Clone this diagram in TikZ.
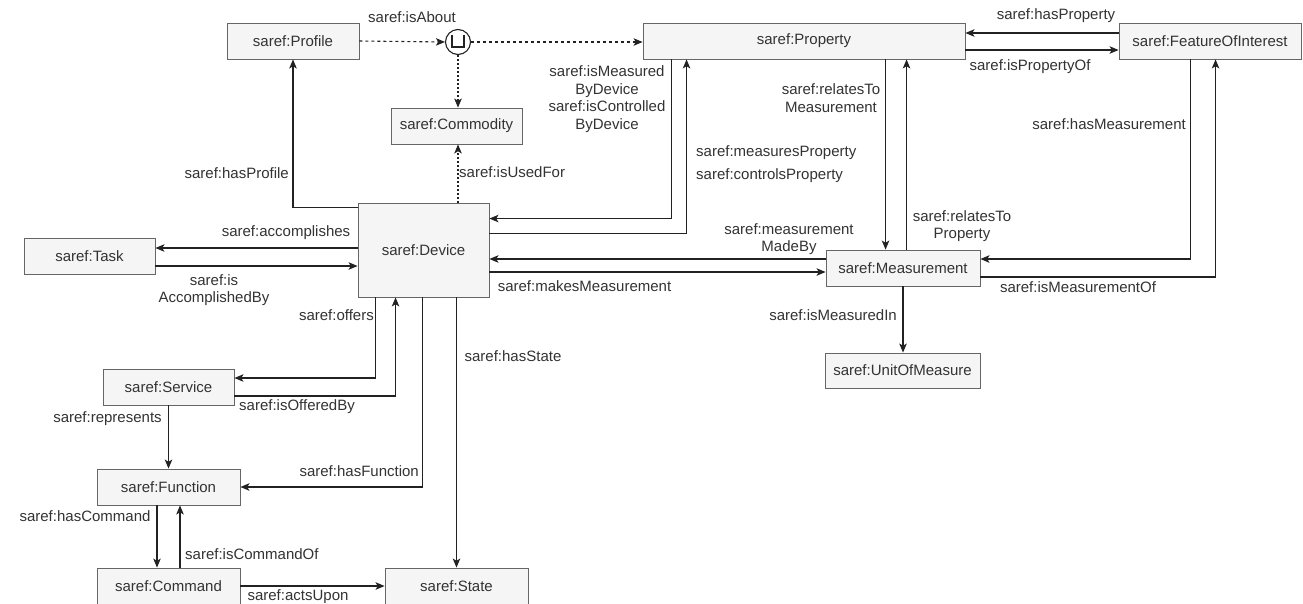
\documentclass[tikz,border=0pt]{standalone}
\usepackage{fontspec}
\setmainfont{Liberation Sans}
\usetikzlibrary{arrows.meta,calc}
\definecolor{boxfill}{HTML}{F5F5F5}
\definecolor{boxline}{HTML}{666666}
\definecolor{ink}{HTML}{333333}
\definecolor{wire}{HTML}{222222}

\tikzset{
  cls/.style={draw=boxline, fill=boxfill, line width=0.9pt, text=ink, inner sep=0pt,
    font=\fontsize{15}{17.5}\selectfont, minimum height=36pt},
  lblm/.style={text=ink, inner sep=0pt, font=\fontsize{15}{17.5}\selectfont, align=center},
  lbl/.style={lblm, text height=10.5pt, text depth=3pt},
  arr/.style={draw=wire, line width=1.1pt, -{Stealth[length=9pt,width=7.5pt,inset=2.2pt]}},
  dsh/.style={arr, dash pattern=on 3pt off 3pt},
  dtt/.style={arr, dash pattern=on 2pt off 2pt},
}

\begin{document}
\begin{tikzpicture}[x=1pt,y=-1pt]
\fill[white] (0,0) rectangle (1303,603);
\path[use as bounding box] (0,0) rectangle (1303,603);

% classes
\node[cls, minimum width=132pt] (prof) at (293,41) {saref:Profile};
\node[cls, minimum width=131pt] (comm) at (456.5,126) {saref:Commodity};
\node[cls, minimum width=322pt] (prop) at (804,41) {saref:Property};
\node[cls, minimum width=182pt] (foi) at (1210,41) {saref:FeatureOfInterest};
\node[cls, minimum width=131pt, minimum height=94pt] (dev) at (423.5,250) {saref:Device};
\node[cls, minimum width=131pt] (task) at (89.5,256) {saref:Task};
\node[cls, minimum width=131pt] (svc) at (168.5,387) {saref:Service};
\node[cls, minimum width=143pt] (func) at (168.5,487) {saref:Function};
\node[cls, minimum width=143pt] (cmd) at (168.5,586) {saref:Command};
\node[cls, minimum width=143pt] (state) at (456.5,586) {saref:State};
\node[cls, minimum width=154pt] (meas) at (903,268) {saref:Measurement};
\node[cls, minimum width=155pt, minimum height=35pt] (unit) at (902.5,370.5) {saref:UnitOfMeasure};

% union of Profile and Property
\node[circle, draw=wire, fill=white, line width=1.1pt, minimum size=25pt, inner sep=0pt] (union) at (458,42) {};
\draw[wire, line width=1.1pt] ($(union.center)+(-6,-7)$) -- ($(union.center)+(-6,5)$)
  -- ($(union.center)+(6,5)$) -- ($(union.center)+(6,-7)$);

% dashed relations
\draw[dsh] (prof.east) -- (union.west);
\draw[dsh] (union.east) -- (union.east -| prop.west);
\draw[dtt] (union.south) -- (union.south |- comm.north);
\draw[dtt] (union.south |- dev.north) -- (union.south |- comm.south);
\node[lbl] (l_about) at (412,19) {saref:isAbout};
\node[lbl, anchor=west] (l_used) at (459,174) {saref:isUsedFor};

% Device -- Profile, Task
\draw[arr] ($(dev.north west)+(0,5)$) -| (prof.south);
\node[lbl, anchor=east] (l_prof) at (289,175) {saref:hasProfile};
\draw[arr] ($(dev.west)+(0,-2)$) -- ($(task.east)+(0,-8)$);
\node[lbl] (l_acc) at (286,233) {saref:accomplishes};
\draw[arr] ($(task.east)+(0,10)$) -- ($(dev.west)+(0,16)$);
\node[lblm] (l_accby) at (214,290) {saref:is\\AccomplishedBy};

% Device -- Service
\draw[arr] ($(dev.south west)+(18,0)$) |- ($(svc.east)+(0,-9)$);
\node[lbl, anchor=east] (l_off) at (374,317) {saref:offers};
\draw[arr] ($(svc.east)+(0,9)$) -| ($(dev.south west)+(38,0)$);
\node[lbl] (l_offby) at (297,407) {saref:isOfferedBy};

% Service, Function, Command, State
\draw[arr] (svc.south) -- (func.north);
\node[lbl] (l_rep) at (107.5,419) {saref:represents};
\draw[arr] ($(dev.south west)+(65,0)$) |- (func.east);
\node[lbl, anchor=east] (l_fun) at (419,473) {saref:hasFunction};
\draw[arr] (state.north |- dev.south) -- (state.north);
\node[lbl] (l_state) at (513,358) {saref:hasState};
\draw[arr] ($(func.south)+(-11.5,0)$) -- ($(cmd.north)+(-11.5,0)$);
\node[lbl] (l_cmd) at (85,518) {saref:hasCommand};
\draw[arr] ($(cmd.north)+(11.5,0)$) -- ($(func.south)+(11.5,0)$);
\node[lbl, anchor=west] (l_cmdof) at (185,556) {saref:isCommandOf};
\draw[arr] (cmd.east) -- (state.west);
\node[lbl] (l_acts) at (298,597) {saref:actsUpon};

% Device -- Property
\draw[arr] ($(prop.south west)+(29,0)$) |- ($(dev.north east)+(0,16)$);
\draw[arr] ($(dev.north east)+(0,31)$) -| ($(prop.south west)+(44,0)$);
\node[lblm] (l_measby) at (607,99) {saref:isMeasured\\ByDevice\\saref:isControlled\\ByDevice};
\node[lbl, anchor=west] (l_measp) at (696,153) {saref:measuresProperty};
\node[lbl, anchor=west] (l_ctrlp) at (696,176) {saref:controlsProperty};

% Device -- Measurement
\draw[arr] ($(meas.west)+(0,-9)$) -- ($(dev.east)+(0,9)$);
\node[lblm] (l_made) at (789,239) {saref:measurement\\MadeBy};
\draw[arr] ($(dev.east)+(0,22)$) -- ($(meas.west)+(0,4)$);
\node[lbl] (l_makes) at (584.5,288) {saref:makesMeasurement};

% Property -- Measurement
\draw[arr] ($(prop.south west)+(243,0)$) -- ($(meas.north west)+(60,0)$);
\node[lblm] (l_rtm) at (831,98) {saref:relatesTo\\Measurement};
\draw[arr] ($(meas.north west)+(81,0)$) -- ($(prop.south west)+(264,0)$);
\node[lblm] (l_rtp) at (962,226) {saref:relatesTo\\Property};

% FeatureOfInterest -- Measurement
\draw[arr] ($(foi.south west)+(72,0)$) |- ($(meas.east)+(0,-9)$);
\node[lbl, anchor=east] (l_hasm) at (1186,126) {saref:hasMeasurement};
\draw[arr] ($(meas.east)+(0,9)$) -| ($(foi.south west)+(97,0)$);
\node[lbl] (l_mof) at (1078,289) {saref:isMeasurementOf};

% Measurement -- UnitOfMeasure
\draw[arr] (meas.south) -- (meas.south |- unit.north);
\node[lbl, anchor=east] (l_unit) at (897,317) {saref:isMeasuredIn};

% Property -- FeatureOfInterest
\draw[arr] ($(foi.west)+(0,-8)$) -- ($(prop.east)+(0,-8)$);
\node[lbl] (l_hasp) at (1056,16) {saref:hasProperty};
\draw[arr] ($(prop.east)+(0,9)$) -- ($(foi.west)+(0,9)$);
\node[lbl] (l_pof) at (1030,67) {saref:isPropertyOf};
\end{tikzpicture}
\end{document}
